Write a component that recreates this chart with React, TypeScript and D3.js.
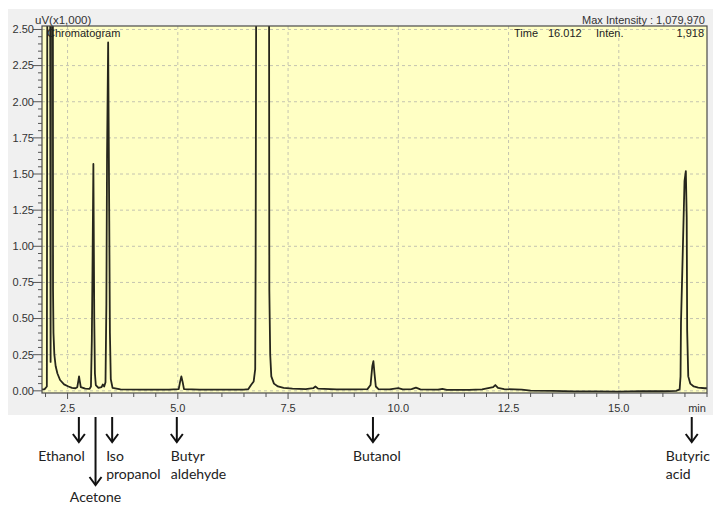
import * as d3 from "d3";

// retention time (min) / intensity (uV x1,000)
const traceTime = [
  1.92, 1.98, 2.03, 2.045, 2.1, 2.115, 2.13, 2.165, 2.17, 2.18, 2.2, 2.23, 2.27, 2.33, 2.42, 2.52,
  2.6, 2.68, 2.72, 2.745, 2.76, 2.775, 2.8, 2.9, 3.0, 3.03, 3.05, 3.065, 3.085, 3.105, 3.12, 3.14,
  3.2, 3.27, 3.3, 3.33, 3.36, 3.38, 3.395, 3.42, 3.445, 3.46, 3.48, 3.52, 3.7, 4.2, 4.8, 5.02,
  5.05, 5.08, 5.11, 5.14, 5.5, 6.0, 6.5, 6.6, 6.66, 6.72, 6.755, 6.765, 6.785, 7.065, 7.075, 7.095,
  7.12, 7.18, 7.27, 7.4, 7.6, 7.9, 8.07, 8.12, 8.18, 8.6, 9.0, 9.3, 9.37, 9.41, 9.435, 9.46,
  9.49, 9.55, 9.8, 10.0, 10.1, 10.3, 10.4, 10.5, 10.9, 11.0, 11.1, 11.6, 11.9, 12.15, 12.2, 12.26,
  12.4, 12.8, 13.0, 13.5, 14.0, 14.5, 15.0, 15.5, 16.0, 16.3, 16.38, 16.4, 16.41, 16.44, 16.49, 16.52,
  16.54, 16.55, 16.575, 16.62, 16.7, 16.8, 16.95, 17.0,
];
const traceValue = [
  0.01, 0.012, 0.03, 4, 4, 0.2, 4, 4, 0.7, 0.4, 0.25, 0.17, 0.12, 0.075, 0.045, 0.03,
  0.02, 0.018, 0.025, 0.07, 0.1, 0.07, 0.025, 0.015, 0.014, 0.03, 0.35, 0.84, 1.57, 0.5, 0.12, 0.04,
  0.02, 0.025, 0.044, 0.03, 0.06, 0.6, 1.62, 2.41, 1.18, 0.4, 0.08, 0.02, 0.01, 0.008, 0.008, 0.012,
  0.06, 0.1, 0.06, 0.012, 0.008, 0.008, 0.008, 0.012, 0.04, 0.065, 0.15, 0.93, 4, 4, 0.7, 0.25,
  0.1, 0.05, 0.03, 0.02, 0.015, 0.012, 0.018, 0.03, 0.015, 0.01, 0.01, 0.012, 0.04, 0.17, 0.205, 0.12,
  0.03, 0.012, 0.01, 0.018, 0.01, 0.012, 0.022, 0.01, 0.008, 0.014, 0.007, 0.007, 0.01, 0.025, 0.04, 0.02,
  0.012, 0.008, 0.002, 0.0, -0.004, -0.004, -0.005, -0.002, -0.003, 0.0, 0.01, 0.1, 0.47, 0.83, 1.45, 1.52,
  1.2, 0.42, 0.1, 0.05, 0.03, 0.022, 0.018, 0.018,
];

const yTicks = [0, 0.25, 0.5, 0.75, 1.0, 1.25, 1.5, 1.75, 2.0, 2.25, 2.5];
const xTicks = [2.5, 5.0, 7.5, 10.0, 12.5, 15.0];

// compound labels and where their arrows point (min)
const compoundLines = [["Ethanol"], ["Acetone"], ["Iso", "propanol"], ["Butyr", "aldehyde"], ["Butanol"], ["Butyric", "acid"]];
const arrowTime = [2.756, 3.134, 3.511, 4.977, 9.425, 16.654];

const W = 713;
const H = 506;
const plot = { left: 42, right: 707, top: 26, bottom: 393 };

export default function App() {
  const x = d3.scaleLinear().domain([1.92, 17.0]).range([plot.left, plot.right]);
  const y = d3.scaleLinear().domain([-0.015, 2.524]).range([plot.bottom, plot.top]);

  const pts: [number, number][] = traceTime.map((t, i) => [t, traceValue[i]]);
  const line = d3
    .line<[number, number]>()
    .x((d) => x(d[0]))
    .y((d) => y(d[1]));

  const yMinor = d3.range(0, 2.501, 0.05);
  const xMinor = d3.range(2.0, 17.01, 0.5);

  const labelFont = "'Liberation Sans', Arial, sans-serif";
  const noteFont = "Lato, 'Open Sans', sans-serif";

  // label layout per annotation: text anchor and offset from arrow, arrow length
  const noteLayout = [
    { anchor: "end", dx: 6, len: 25, base: 461 },
    { anchor: "middle", dx: 0, len: 68, base: 502 },
    { anchor: "start", dx: -6, len: 25, base: 461 },
    { anchor: "start", dx: -6, len: 25, base: 461 },
    { anchor: "middle", dx: 4, len: 25, base: 461 },
    { anchor: "start", dx: -26, len: 25, base: 461 },
  ];

  return (
    <svg
      width={W}
      height={H}
      style={{ position: "absolute", left: 0, top: 0, background: "#fff" }}
    >
      <defs>
        <clipPath id="plotClip">
          <rect x={plot.left} y={plot.top} width={plot.right - plot.left} height={plot.bottom - plot.top} />
        </clipPath>
      </defs>
      <rect x={8} y={9} width={W - 8} height={406} fill="#f0f0f0" />
      <rect
        x={plot.left}
        y={plot.top}
        width={plot.right - plot.left}
        height={plot.bottom - plot.top}
        fill="#ffffc4"
      />
      {/* grid */}
      {yTicks.map((v) => (
        <line
          key={"gy" + v}
          x1={plot.left}
          x2={plot.right}
          y1={y(v)}
          y2={y(v)}
          stroke="#c4c4b0"
          strokeDasharray="3,3"
        />
      ))}
      {xTicks.map((v) => (
        <line
          key={"gx" + v}
          x1={x(v)}
          x2={x(v)}
          y1={plot.top}
          y2={plot.bottom}
          stroke="#c4c4b0"
          strokeDasharray="3,3"
        />
      ))}
      {/* trace */}
      <path
        d={line(pts) ?? ""}
        fill="none"
        stroke="#26261c"
        strokeWidth={1.8}
        strokeLinejoin="round"
        clipPath="url(#plotClip)"
      />
      <rect
        x={plot.left}
        y={plot.top}
        width={plot.right - plot.left}
        height={plot.bottom - plot.top}
        fill="none"
        stroke="#4a4a4a"
        strokeWidth={1.2}
      />
      {/* y axis */}
      {yMinor.map((v, i) => (
        <line
          key={"my" + i}
          x1={i % 5 === 0 ? plot.left - 9 : plot.left - 4}
          x2={plot.left}
          y1={y(v)}
          y2={y(v)}
          stroke="#555"
        />
      ))}
      {yTicks.map((v) => (
        <text
          key={"ty" + v}
          x={plot.left - 8}
          y={y(v)}
          dy="0.35em"
          textAnchor="end"
          fontFamily={labelFont}
          fontSize={11}
          fill="#333"
        >
          {d3.format(".2f")(v)}
        </text>
      ))}
      {/* x axis */}
      {xMinor.map((v, i) => (
        <line
          key={"mx" + i}
          x1={x(v)}
          x2={x(v)}
          y1={plot.bottom}
          y2={plot.bottom + (xTicks.includes(v) ? 6 : 4)}
          stroke="#555"
        />
      ))}
      {xTicks.map((v) => (
        <text
          key={"tx" + v}
          x={x(v)}
          y={412}
          textAnchor="middle"
          fontFamily={labelFont}
          fontSize={11}
          fill="#333"
        >
          {d3.format(".1f")(v)}
        </text>
      ))}
      <text x={697} y={412} textAnchor="middle" fontFamily={labelFont} fontSize={11} fill="#333">
        min
      </text>
      {/* headers */}
      <text x={35} y={24} fontFamily={labelFont} fontSize={11.5} fill="#333">
        uV(x1,000)
      </text>
      <text x={47} y={37} fontFamily={labelFont} fontSize={11} fill="#222">
        Chromatogram
      </text>
      <text x={705} y={24} textAnchor="end" fontFamily={labelFont} fontSize={11} fill="#333">
        Max Intensity : 1,079,970
      </text>
      <text x={514} y={37} fontFamily={labelFont} fontSize={11} fill="#222">
        Time
      </text>
      <text x={548} y={37} fontFamily={labelFont} fontSize={11} fill="#222">
        16.012
      </text>
      <text x={596} y={37} fontFamily={labelFont} fontSize={11} fill="#222">
        Inten.
      </text>
      <text x={704} y={37} textAnchor="end" fontFamily={labelFont} fontSize={11} fill="#222">
        1,918
      </text>
      {/* compound annotations */}
      {arrowTime.map((t, i) => {
        const ax = x(t);
        const lay = noteLayout[i];
        const y0 = 417;
        const y1 = y0 + lay.len;
        return (
          <g key={"note" + i}>
            <line x1={ax} x2={ax} y1={y0} y2={y1} stroke="#111" strokeWidth={2} />
            <path
              d={`M${ax - 6},${y1 - 8} L${ax},${y1} L${ax + 6},${y1 - 8}`}
              fill="none"
              stroke="#111"
              strokeWidth={2}
            />
            {compoundLines[i].map((s, j) => (
              <text
                key={j}
                x={ax + lay.dx}
                y={lay.base + j * 18}
                textAnchor={lay.anchor}
                fontFamily={noteFont}
                fontSize={14}
                fill="#222"
              >
                {s}
              </text>
            ))}
          </g>
        );
      })}
    </svg>
  );
}
